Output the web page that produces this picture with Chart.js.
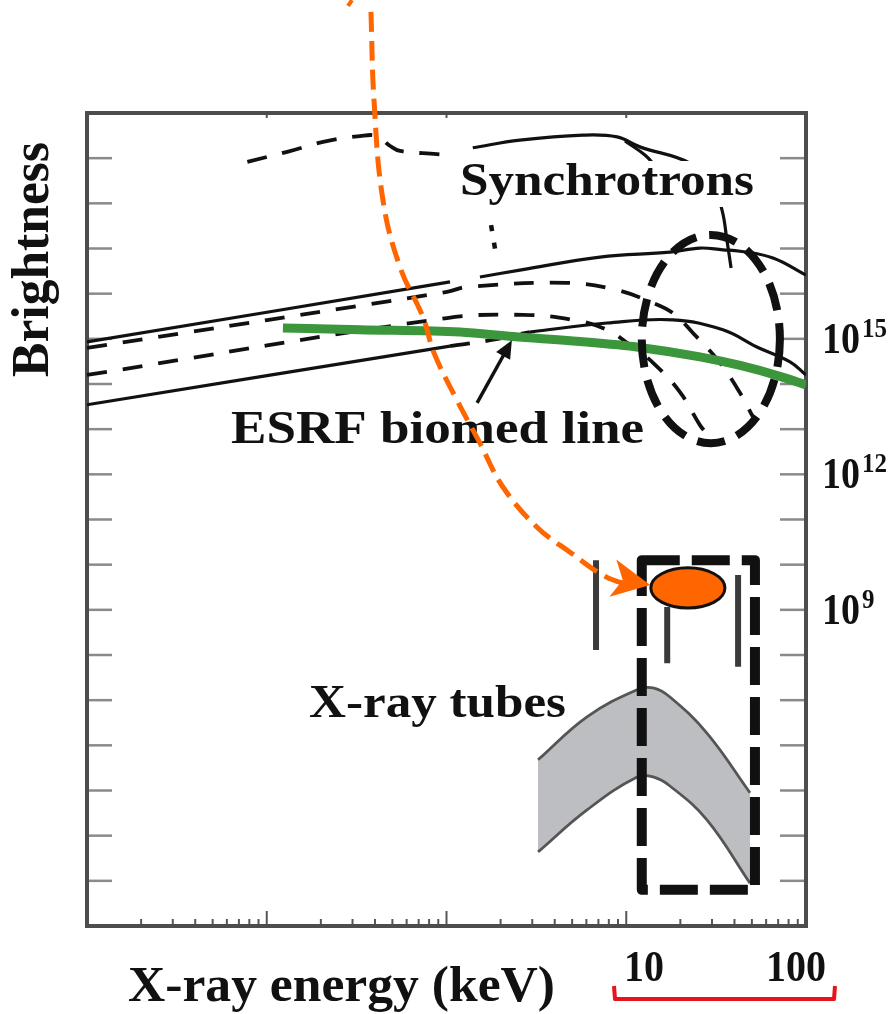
<!DOCTYPE html>
<html>
<head>
<meta charset="utf-8">
<script src="https://cdn.jsdelivr.net/npm/chart.js@4.4.1/dist/chart.umd.min.js"></script>
<style>
  html, body { margin: 0; padding: 0; background: #fff; }
  #wrap { width: 892px; height: 1014px; }
</style>
</head>
<body>
<div id="wrap"><canvas id="chart" width="892" height="1014"></canvas></div>
<script>
// energies in keV, brightness given as log10 exponent
const undulatorE = [0.078, 0.13, 0.206, 0.33, 0.41, 0.486, 0.551, 0.885, 1.11];
const undulatorB = [18.92, 19.14, 19.36, 19.49, 19.49, 19.27, 19.16, 19.09, 19.05];

const topSolidE = [1.40, 2.56, 5.75, 8.89, 11.9, 22.6, 30.0, 34.1, 36.3, 38.3];
const topSolidB = [19.23, 19.40, 19.51, 19.47, 19.25, 18.89, 18.41, 17.85, 17.19, 16.57];
const topForkE = [9.84, 12.7, 14.5];
const topForkB = [19.38, 19.07, 18.83];

const dottedE = [1.77, 1.886];
const dottedB = [17.52, 16.86];

const bendUpperAE = [0.01, 1.046];
const bendUpperAB = [14.93, 16.26];
const bendUpperBE = [1.535, 2.56, 7.14, 17.5, 25.7, 34.5, 42.9, 65.5, 100];
const bendUpperBB = [16.37, 16.52, 16.81, 16.92, 17.01, 16.97, 16.94, 16.79, 16.41];

const dashUpperE = [0.01, 1.007, 1.30, 4.68, 8.89, 13.6, 18.2, 23.5, 33.2, 43.0, 50.7];
const dashUpperB = [14.80, 16.04, 16.15, 16.24, 16.08, 15.82, 15.57, 15.13, 14.47, 13.80, 13.27];

const dashLowerE = [0.01, 1.007, 2.66, 5.06, 7.82, 10.5, 14.1, 19.9, 25.7, 28.5];
const dashLowerB = [14.20, 15.46, 15.53, 15.42, 15.20, 14.86, 14.47, 13.82, 13.09, 12.87];

const bendLowerAE = [0.01, 1.046];
const bendLowerAB = [13.54, 14.84];
const bendLowerGapE = [1.046, 1.75, 2.91];
const bendLowerGapB = [14.84, 14.97, 15.15];
const bendLowerBE = [2.91, 7.82, 18.2, 34.5, 53.3, 81.5, 100];
const bendLowerBB = [15.15, 15.35, 15.42, 15.20, 14.82, 14.49, 14.20];

const esrfE = [0.123, 0.33, 1.19, 2.34, 5.53, 11.9, 25.7, 43.0, 71.6, 100];
const esrfB = [15.24, 15.20, 15.15, 15.05, 14.94, 14.81, 14.60, 14.41, 14.17, 13.98];

const tubeLineE = [6.79, 16.9, 41.9];
const tubeLineTop = [10.10, 9.06, 9.77];
const tubeLineBottom = [8.11, 7.82, 7.74];

const tubeE = [3.23, 6.05, 11.5, 14.1, 17.5, 28.1, 48.8];
const tubeUpper = [5.68, 6.63, 7.23, 7.27, 7.07, 6.27, 4.95];
const tubeLower = [3.64, 4.57, 5.30, 5.30, 5.10, 4.35, 2.95];

const pointerE = [0.380, 0.395, 0.443, 0.551, 0.740, 0.852, 1.14, 1.535, 2.06, 3.19, 4.93, 7.71, 10.8];
const pointerB = [22.24, 20.29, 18.07, 16.59, 15.48, 14.69, 13.65, 12.69, 11.72, 10.83, 10.26, 9.73, 9.53];
const pointerTip = [13.6, 9.55];
const cutMarkE = [0.283, 0.298];
const cutMarkB = [22.37, 22.50];

const esrfArrowE = [1.48, 2.31];
const esrfArrowB = [13.58, 14.97];

// highlight shapes, as [eMin, eMax, bMin, bMax]
const ellipseBox = [12.2, 71.6, 12.69, 17.30];
const rectBox = [12.2, 52.0, 2.80, 10.10];
const dotBox = [13.7, 35.4, 9.04, 9.93];

const yTickExps = [3, 4, 5, 6, 7, 8, 9, 10, 11, 12, 13, 14, 15, 16, 17, 18, 19];
const rightLabelExps = ['15', '12', '9'];
const xDecades = [0.01, 0.1, 1, 10];
const xMinor = [2, 3, 4, 5, 6, 7, 8, 9];
const xMajor = [0.1, 1, 10];
const bottomLabels = ['10', '100'];

const ORANGE = '#ff6600';
const INK = '#111';
const FONT = '"Liberation Serif", "Times New Roman", serif';

const pts = (E, B) => E.map((e, i) => ({ x: e, y: Math.pow(10, B[i]) }));

function curve(E, B, opts) {
    return Object.assign({
        data: pts(E, B),
        borderColor: INK,
        borderWidth: 3.2,
        pointRadius: 0,
        tension: 0.4,
        fill: false
    }, opts);
}

const dashed = { borderDash: [20, 16], borderWidth: 3.8 };

// first dataset is drawn on top
const datasets = [
    curve(pointerE, pointerB, { borderColor: ORANGE, borderWidth: 5, borderDash: [20, 9], clip: false }),
    curve(cutMarkE, cutMarkB, { borderColor: ORANGE, borderWidth: 4, clip: false }),
    curve(esrfE, esrfB, { borderColor: '#3c963c', borderWidth: 9, borderCapStyle: 'butt', cubicInterpolationMode: 'monotone' }),
    curve(undulatorE, undulatorB, dashed),
    curve(topSolidE, topSolidB, {}),
    curve(topForkE, topForkB, {}),
    curve(dottedE, dottedB, { borderDash: [6, 12], borderWidth: 4.5 }),
    curve(bendUpperAE, bendUpperAB, {}),
    curve(bendUpperBE, bendUpperBB, {}),
    curve(dashUpperE, dashUpperB, dashed),
    curve(dashLowerE, dashLowerB, dashed),
    curve(bendLowerAE, bendLowerAB, {}),
    curve(bendLowerGapE, bendLowerGapB, dashed),
    curve(bendLowerBE, bendLowerBB, {})
];
tubeLineE.forEach((e, i) => {
    datasets.push(curve([e, e], [tubeLineTop[i], tubeLineBottom[i]], { borderColor: '#3a3a3a', borderWidth: 6, tension: 0 }));
});
// lower edge sits above the upper one so the band fill does not cover it
datasets.push(curve(tubeE, tubeLower, { borderColor: '#555', borderWidth: 2.8 }));
datasets.push(curve(tubeE, tubeUpper, { borderColor: '#555', borderWidth: 2.8, fill: '-1', backgroundColor: '#bdbec1' }));

function line(ctx, x1, y1, x2, y2) {
    ctx.beginPath(); ctx.moveTo(x1, y1); ctx.lineTo(x2, y2); ctx.stroke();
}

// bold serif text squeezed to the width measured on the picture
function fitText(ctx, text, x, y, size, width) {
    ctx.save();
    ctx.font = 'bold ' + size + 'px ' + FONT;
    ctx.textAlign = 'left';
    ctx.textBaseline = 'alphabetic';
    const w = ctx.measureText(text).width;
    ctx.translate(x, y);
    ctx.scale(width / w, 1);
    ctx.fillStyle = INK;
    ctx.fillText(text, 0, 0);
    ctx.restore();
}

function arrowHead(ctx, fromX, fromY, tipX, tipY, len, half, notch, color) {
    const ang = Math.atan2(tipY - fromY, tipX - fromX);
    ctx.save();
    ctx.translate(tipX, tipY);
    ctx.rotate(ang);
    ctx.fillStyle = color;
    ctx.beginPath();
    ctx.moveTo(0, 0);
    ctx.lineTo(-len, -half);
    ctx.lineTo(-len + notch, 0);
    ctx.lineTo(-len, half);
    ctx.closePath();
    ctx.fill();
    ctx.restore();
}

const figurePlugin = {
    id: 'figure',
    beforeDatasetsDraw(chart) {
        const { ctx, chartArea: a } = chart;
        const xs = chart.scales.x, ys = chart.scales.y;
        ctx.save();
        ctx.lineCap = 'butt';

        // inward decade ticks on both sides
        ctx.strokeStyle = '#8a8a8a';
        ctx.lineWidth = 2.5;
        yTickExps.forEach(e => {
            const y = ys.getPixelForValue(Math.pow(10, e));
            line(ctx, a.left, y, a.left + 25, y);
            line(ctx, a.right - 26, y, a.right, y);
        });

        // log ticks on the energy axis
        ctx.strokeStyle = '#555';
        ctx.lineWidth = 2;
        xDecades.forEach(d => xMinor.forEach(m => {
            const x = xs.getPixelForValue(d * m);
            line(ctx, x, a.bottom, x, a.bottom - 7);
        }));
        xMajor.forEach(v => {
            const x = xs.getPixelForValue(v);
            line(ctx, x, a.bottom, x, a.bottom - 15);
            line(ctx, x, a.top, x, a.top + 5);
        });

        ctx.strokeStyle = '#4d4d4d';
        ctx.lineWidth = 4;
        ctx.strokeRect(a.left, a.top, a.right - a.left, a.bottom - a.top);

        // right-hand labels 10^n
        rightLabelExps.forEach(e => {
            const y = ys.getPixelForValue(Math.pow(10, +e)) + 14;
            fitText(ctx, '10', 822, y, 44, 38);
            fitText(ctx, e, 862, y - 16, 28, e.length * 12.5);
        });

        // axis titles
        ctx.save();
        ctx.translate(48, 377);
        ctx.rotate(-Math.PI / 2);
        fitText(ctx, 'Brightness', 0, 0, 52, 235);
        ctx.restore();
        fitText(ctx, 'X-ray energy (keV)', 128, 1001, 50, 427);
        fitText(ctx, bottomLabels[0], 624, 981, 44, 40);
        fitText(ctx, bottomLabels[1], 766, 981, 44, 60);

        // red bracket under the energy labels
        ctx.strokeStyle = '#e8141b';
        ctx.lineWidth = 4;
        ctx.lineJoin = 'round';
        ctx.beginPath();
        ctx.moveTo(614, 986); ctx.lineTo(615, 999); ctx.lineTo(834, 999); ctx.lineTo(835, 986);
        ctx.stroke();
        ctx.restore();
    },
    beforeDatasetDraw(chart, args) {
        if (args.index !== 0) return;
        const { ctx } = chart;
        const xs = chart.scales.x, ys = chart.scales.y;
        const px = v => xs.getPixelForValue(v);
        const py = e => ys.getPixelForValue(Math.pow(10, e));
        ctx.save();

        // label box over the synchrotron curves
        ctx.fillStyle = '#fff';
        ctx.fillRect(455, 161, 307, 46);
        fitText(ctx, 'Synchrotrons', 460, 195, 46, 294);
        fitText(ctx, 'ESRF biomed line', 231, 443, 46, 413);
        fitText(ctx, 'X-ray tubes', 309, 717, 46, 257);

        // pointer to the ESRF line
        const ax1 = px(esrfArrowE[0]), ay1 = py(esrfArrowB[0]);
        const ax2 = px(esrfArrowE[1]), ay2 = py(esrfArrowB[1]);
        ctx.strokeStyle = INK;
        ctx.lineWidth = 3.5;
        line(ctx, ax1, ay1, ax2 - (ax2 - ax1) * 0.2, ay2 - (ay2 - ay1) * 0.2);
        arrowHead(ctx, ax1, ay1, ax2, ay2, 18, 8, 0, INK);

        // dashed ellipse around the high-energy fall-off
        const el = ellipseBox;
        const ex1 = px(el[0]), ex2 = px(el[1]), ey1 = py(el[3]), ey2 = py(el[2]);
        ctx.lineWidth = 8;
        ctx.setLineDash([28, 13]);
        ctx.beginPath();
        ctx.ellipse((ex1 + ex2) / 2, (ey1 + ey2) / 2, (ex2 - ex1) / 2, (ey2 - ey1) / 2, 0, 0, Math.PI * 2);
        ctx.stroke();

        // dashed window 10-100 keV
        const r = rectBox;
        ctx.lineWidth = 10;
        ctx.lineJoin = 'round';
        ctx.setLineDash([38, 12]);
        ctx.strokeRect(px(r[0]), py(r[3]), px(r[1]) - px(r[0]), py(r[2]) - py(r[3]));
        ctx.setLineDash([]);

        // orange source marker
        const d = dotBox;
        const dx1 = px(d[0]), dx2 = px(d[1]), dy1 = py(d[3]), dy2 = py(d[2]);
        ctx.fillStyle = ORANGE;
        ctx.lineWidth = 3;
        ctx.beginPath();
        ctx.ellipse((dx1 + dx2) / 2, (dy1 + dy2) / 2, (dx2 - dx1) / 2, (dy2 - dy1) / 2, 0, 0, Math.PI * 2);
        ctx.fill();
        ctx.stroke();
        ctx.restore();
    },
    afterDatasetsDraw(chart) {
        const { ctx } = chart;
        const xs = chart.scales.x, ys = chart.scales.y;
        const n = pointerE.length - 1;
        const fx = xs.getPixelForValue(pointerE[n - 1]);
        const fy = ys.getPixelForValue(Math.pow(10, pointerB[n - 1]));
        const tx = xs.getPixelForValue(pointerTip[0]);
        const ty = ys.getPixelForValue(Math.pow(10, pointerTip[1]));
        arrowHead(ctx, fx, fy, tx, ty, 38, 19, 10, ORANGE);
    }
};

new Chart(document.getElementById('chart').getContext('2d'), {
    type: 'line',
    data: { datasets: datasets },
    options: {
        responsive: false,
        animation: false,
        layout: { padding: { left: 87, right: 86, top: 113, bottom: 88 } },
        plugins: { legend: { display: false }, tooltip: { enabled: false } },
        scales: {
            x: { type: 'logarithmic', min: 0.01, max: 100, display: false },
            y: { type: 'logarithmic', min: 1e2, max: 1e20, display: false }
        }
    },
    plugins: [figurePlugin]
});
</script>
</body>
</html>
